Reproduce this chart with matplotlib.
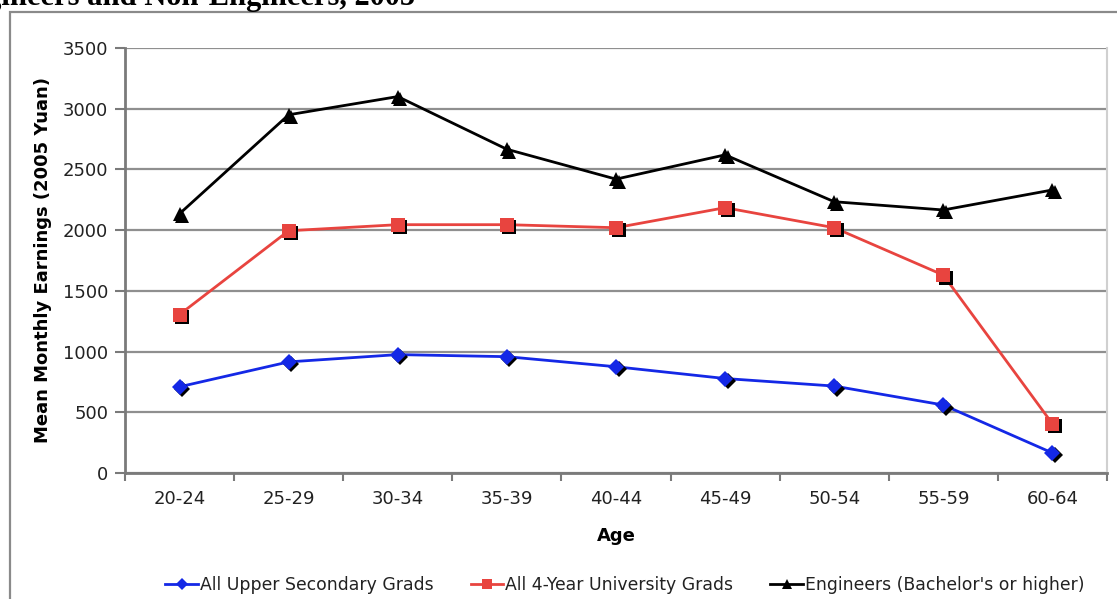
import matplotlib
matplotlib.use("Agg")
import matplotlib.pyplot as plt
from matplotlib import transforms
from matplotlib.patches import Rectangle
from matplotlib.lines import Line2D

# Age groups and mean monthly earnings (2005 Yuan)
ages = ["20-24", "25-29", "30-34", "35-39", "40-44", "45-49", "50-54", "55-59", "60-64"]
upper_secondary = [710, 915, 975, 958, 875, 778, 716, 560, 165]
university = [1305, 1995, 2045, 2045, 2020, 2185, 2020, 1630, 405]
engineers = [2135, 2950, 3100, 2666, 2420, 2620, 2234, 2166, 2331]

series_names = ["All Upper Secondary Grads", "All 4-Year University Grads",
                "Engineers (Bachelor's or higher)"]
y_ticks = [0, 500, 1000, 1500, 2000, 2500, 3000, 3500]

W, H = 1117, 599
fig = plt.figure(figsize=(W / 100, H / 100), dpi=100)
fig.patch.set_facecolor("white")

# outer frame of the chart object
fig.add_artist(Rectangle((10 / W, -0.05), 1.1, (H - 12) / H + 0.05,
                         transform=fig.transFigure, fill=False,
                         edgecolor="#8a8a8a", linewidth=1.6, clip_on=False))

# title running off the top of the frame
fig.text(415 / W, (H - 5) / H, "Earnings of Engineers and Non-Engineers, 2005",
         ha="right", va="baseline", fontsize=22, fontweight="bold",
         family="Liberation Serif")

ax = fig.add_axes([125 / W, (H - 473) / H, 982 / W, 425 / H])
ax.set_facecolor("white")

x = list(range(len(ages)))
ax.set_xlim(-0.5, len(ages) - 0.5)
ax.set_ylim(0, 3500)

ax.set_yticks(y_ticks)
ax.set_yticklabels([str(v) for v in y_ticks], fontsize=13, color="#222222")
ax.set_xticks(x)
ax.set_xticklabels(ages, fontsize=13, color="#222222")
ax.tick_params(axis="x", length=0, pad=12)
ax.set_xticks([i - 0.5 for i in range(len(ages) + 1)], minor=True)
ax.tick_params(axis="x", which="minor", length=6, width=1.5, color="#7a7a7a",
               direction="out")
ax.tick_params(axis="y", length=7, width=1.5, color="#7a7a7a", pad=5)

ax.yaxis.grid(True, color="#8f8f8f", linewidth=1.6)
ax.set_axisbelow(True)

for side in ("left", "bottom"):
    ax.spines[side].set_color("#7a7a7a")
    ax.spines[side].set_linewidth(2)
ax.spines["top"].set_visible(False)
ax.spines["right"].set_color("#d0d0d0")
ax.spines["right"].set_linewidth(1.5)

ax.set_xlabel("Age", fontsize=13, fontweight="bold", labelpad=14)
ax.set_ylabel("Mean Monthly Earnings (2005 Yuan)", fontsize=13,
              fontweight="bold", labelpad=8)

shadow = transforms.offset_copy(ax.transData, fig=fig, x=2.5, y=-2.5, units="dots")

styles = [
    (upper_secondary, "#1428e6", "D", 8.5),
    (university, "#e8443f", "s", 9.5),
    (engineers, "#000000", "^", 10.5),
]

handles = []
for (vals, color, marker, ms), name in zip(styles, series_names):
    ax.plot(x, vals, color=color, linewidth=2.0, zorder=3, clip_on=False)
    ax.plot(x, vals, linestyle="none", marker=marker, markersize=ms,
            color="black", markeredgewidth=0, transform=shadow, zorder=4,
            clip_on=False)
    ax.plot(x, vals, linestyle="none", marker=marker, markersize=ms,
            color=color, markeredgewidth=0, zorder=5, clip_on=False)
    handles.append(Line2D([0], [0], color=color, linewidth=2.0, marker=marker,
                          markersize=ms * 0.75, markeredgewidth=0))

fig.legend(handles, series_names, loc="center", ncol=3,
           bbox_to_anchor=(625 / W, (H - 585) / H), frameon=False,
           fontsize=12.4, handlelength=1.9, handletextpad=0.12,
           columnspacing=2.15, labelcolor="#222222")

fig.savefig("out.png", dpi=100, facecolor="white")
